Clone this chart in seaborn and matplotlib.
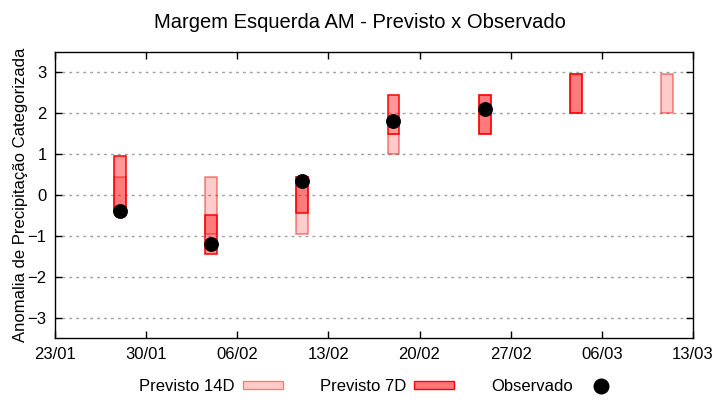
import pandas as pd
import matplotlib
matplotlib.use("Agg")
import matplotlib.pyplot as plt
import matplotlib.dates as mdates
from matplotlib.patches import Rectangle
from matplotlib.lines import Line2D
import seaborn as sns

# datas das previsoes (semana alvo)
dates = ["2023-01-28", "2023-02-04", "2023-02-11", "2023-02-18",
         "2023-02-25", "2023-03-04", "2023-03-11"]

# faixa prevista 14 dias (min, max)
prev14_low = [-0.4, -0.95, -0.95, 1.0, 1.5, 2.0, 2.0]
prev14_high = [0.45, 0.45, 0.45, 1.5, 2.45, 2.95, 2.95]

# faixa prevista 7 dias (sem previsao para 11/03)
prev7_low = [-0.4, -1.45, -0.45, 1.5, 1.5, 2.0, None]
prev7_high = [0.95, -0.5, 0.45, 2.45, 2.45, 2.95, None]

# anomalia observada
obs_dates = ["2023-01-28", "2023-02-04", "2023-02-11", "2023-02-18", "2023-02-25"]
obs_values = [-0.4, -1.2, 0.33, 1.8, 2.1]

df14 = pd.DataFrame({"data": pd.to_datetime(dates), "low": prev14_low, "high": prev14_high})
df7 = pd.DataFrame({"data": pd.to_datetime(dates), "low": prev7_low, "high": prev7_high}).dropna()
dfobs = pd.DataFrame({"data": pd.to_datetime(obs_dates), "anom": obs_values})

sns.set_theme(style="white")
plt.rcParams["font.family"] = ["Liberation Sans", "DejaVu Sans"]
plt.rcParams["text.color"] = "black"

fig = plt.figure(figsize=(7.2, 4.0), dpi=100)
ax = fig.add_axes([0.0764, 0.154, 0.886, 0.717])

box_w = 0.92  # dias
ax.bar(df14["data"], df14["high"] - df14["low"], bottom=df14["low"], width=box_w,
       color=(1, 0, 0, 0.2), edgecolor=(0.95, 0, 0, 0.5), linewidth=1.1, zorder=2)
ax.bar(df7["data"], df7["high"] - df7["low"], bottom=df7["low"], width=box_w,
       color=(1, 0, 0, 0.4), edgecolor="red", linewidth=1.1, zorder=3)
sns.scatterplot(data=dfobs, x="data", y="anom", color="black", s=115,
                edgecolor="black", linewidth=0, zorder=4, ax=ax, legend=False)

ax.set_xlim(pd.Timestamp("2023-01-23"), pd.Timestamp("2023-03-13"))
ax.set_xticks(pd.date_range("2023-01-23", "2023-03-13", freq="7D"))
ax.xaxis.set_major_formatter(mdates.DateFormatter("%d/%m"))
ax.set_ylim(-3.5, 3.5)
ax.set_yticks([-3, -2, -1, 0, 1, 2, 3])

ax.yaxis.grid(True, color="#a0a0a0", linestyle=(0, (2, 3)), linewidth=1)
ax.xaxis.grid(False)
for s in ax.spines.values():
    s.set_color("black")
    s.set_linewidth(1)
ax.tick_params(axis="both", direction="in", length=5, width=1, color="black",
               top=True, right=True, bottom=True, left=True,
               labelsize=12, labelcolor="black", pad=6)

ax.set_xlabel("")
ax.set_ylabel("Anomalia de Precipitação Categorizada", fontsize=12, color="black", labelpad=0)
fig.suptitle("Margem Esquerda AM - Previsto x Observado", fontsize=14.5, y=0.968, color="black")

handles = [
    Rectangle((0, 0), 1, 1, facecolor="#ffcccc", edgecolor="#f08080", linewidth=1),
    Rectangle((0, 0), 1, 1, facecolor="#ff7777", edgecolor="red", linewidth=1),
    Line2D([], [], marker="o", color="black", linestyle="none", markersize=10.5),
]
leg = fig.legend(handles, ["Previsto 14D", "Previsto 7D", "Observado"],
                 loc="lower center", bbox_to_anchor=(0.528, -0.022), ncol=3, frameon=False,
                 markerfirst=False, fontsize=12, handlelength=2.4, handleheight=0.4,
                 columnspacing=2.2, handletextpad=0.5)
for t in leg.get_texts():
    t.set_color("black")

fig.savefig("out.png", dpi=100)
